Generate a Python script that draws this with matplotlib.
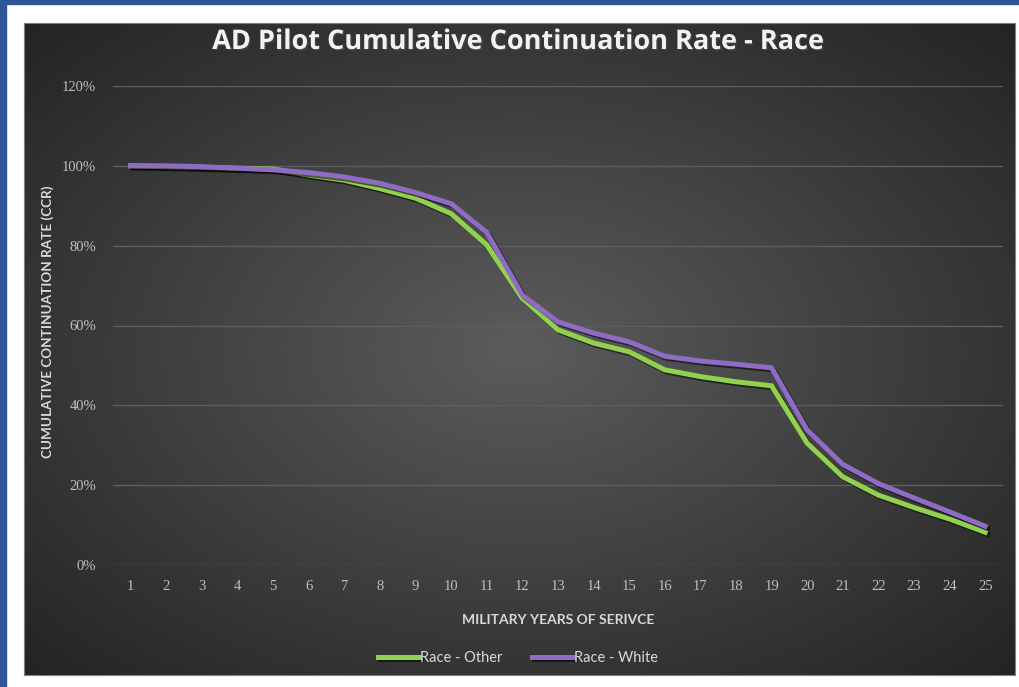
import numpy as np
import matplotlib.pyplot as plt
import matplotlib.patheffects as pe
from matplotlib.patches import Rectangle

years = list(range(1, 26))
race_other = [100.0, 99.8, 99.6, 99.4, 99.2, 97.7, 96.4, 94.3, 91.9, 88.0,
              80.2, 66.8, 58.9, 55.6, 53.4, 48.9, 47.2, 45.9, 44.9, 30.5,
              22.1, 17.5, 14.4, 11.5, 8.2]
race_white = [100.0, 100.0, 99.8, 99.4, 99.0, 98.3, 97.2, 95.6, 93.3, 90.5,
              83.3, 67.6, 60.9, 58.1, 55.9, 52.3, 51.1, 50.3, 49.4, 33.8,
              25.2, 20.4, 16.8, 13.3, 9.7]
yticks = [0, 20, 40, 60, 80, 100, 120]

W, H = 1019, 687
fig = plt.figure(figsize=(W / 100, H / 100), dpi=100, facecolor='white')

def fbox(x0, y0, x1, y1):
    # pixel box (top-left origin) -> figure fraction rect
    return [x0 / W, (H - y1) / H, (x1 - x0) / W, (y1 - y0) / H]

# blue frame on top and left
fig.patches.append(Rectangle((0, (H - 4) / H), 1, 4 / H, transform=fig.transFigure,
                             color='#2F5597', zorder=0))
fig.patches.append(Rectangle((0, 0), 6 / W, 1, transform=fig.transFigure,
                             color='#2F5597', zorder=0))

# dark radial gradient chart area
bg = fig.add_axes(fbox(24, 23, 1015, 675))
yy, xx = np.mgrid[-1:1:300j, -1:1:450j]
r = np.sqrt(xx ** 2 + yy ** 2) / np.sqrt(2)
shade = 0.36 - 0.22 * r
bg.imshow(np.dstack([shade] * 3), aspect='auto', extent=[0, 1, 0, 1])
bg.set_xticks([])
bg.set_yticks([])
for s in bg.spines.values():
    s.set_color('#7f7f7f')
    s.set_linewidth(0.8)

ax = fig.add_axes(fbox(113, 86, 1003, 565))
ax.set_facecolor('none')
ax.set_xlim(0.5, 25.5)
ax.set_ylim(0, 120)
ax.set_yticks(yticks)
ax.set_yticklabels([f'{v}%' for v in yticks])
ax.set_xticks(years)
ax.grid(axis='y', color='#5e5e5e', linewidth=1)
ax.set_axisbelow(True)
for s in ax.spines.values():
    s.set_visible(False)
ax.tick_params(length=0, colors='#BFBFBF', labelsize=10.5, pad=12)
ax.tick_params(axis='x', pad=11)
for lab in ax.get_xticklabels() + ax.get_yticklabels():
    lab.set_family('Liberation Serif')

shadow = [pe.SimpleLineShadow(offset=(1.5, -1.5), alpha=0.55, shadow_color='black'),
          pe.Normal()]
ax.plot(years, race_other, color='#92D050', lw=3.6, label='Race - Other',
        path_effects=shadow)
ax.plot(years, race_white, color='#8E6CC4', lw=3.6, label='Race - White',
        path_effects=shadow)

fig.text(518 / W, 1 - 42 / H, 'AD Pilot Cumulative Continuation Rate - Race',
         ha='center', va='center', fontsize=19.5, fontweight='bold',
         color='#F2F2F2', family='Open Sans',
         path_effects=[pe.withSimplePatchShadow(offset=(1, -1), alpha=0.7)])
ax.set_xlabel('MILITARY YEARS OF SERIVCE', fontsize=10, fontweight='bold',
              color='#D9D9D9', labelpad=15, family='Lato')
fig.text(48 / W, 1 - 322 / H, 'CUMULATIVE CONTINUATION RATE (CCR)', rotation=90,
         ha='center', va='center', fontsize=9.7, fontweight='bold',
         color='#D9D9D9', family='Lato')

leg = fig.legend(loc='center', bbox_to_anchor=(518 / W, 1 - 658 / H), ncol=2,
                 frameon=False, handlelength=2.8, handletextpad=0.1,
                 columnspacing=2.0, prop={'family': 'Lato', 'size': 10.5})
for t in leg.get_texts():
    t.set_color('#D9D9D9')

plt.savefig('out.png', dpi=100, facecolor='white')
